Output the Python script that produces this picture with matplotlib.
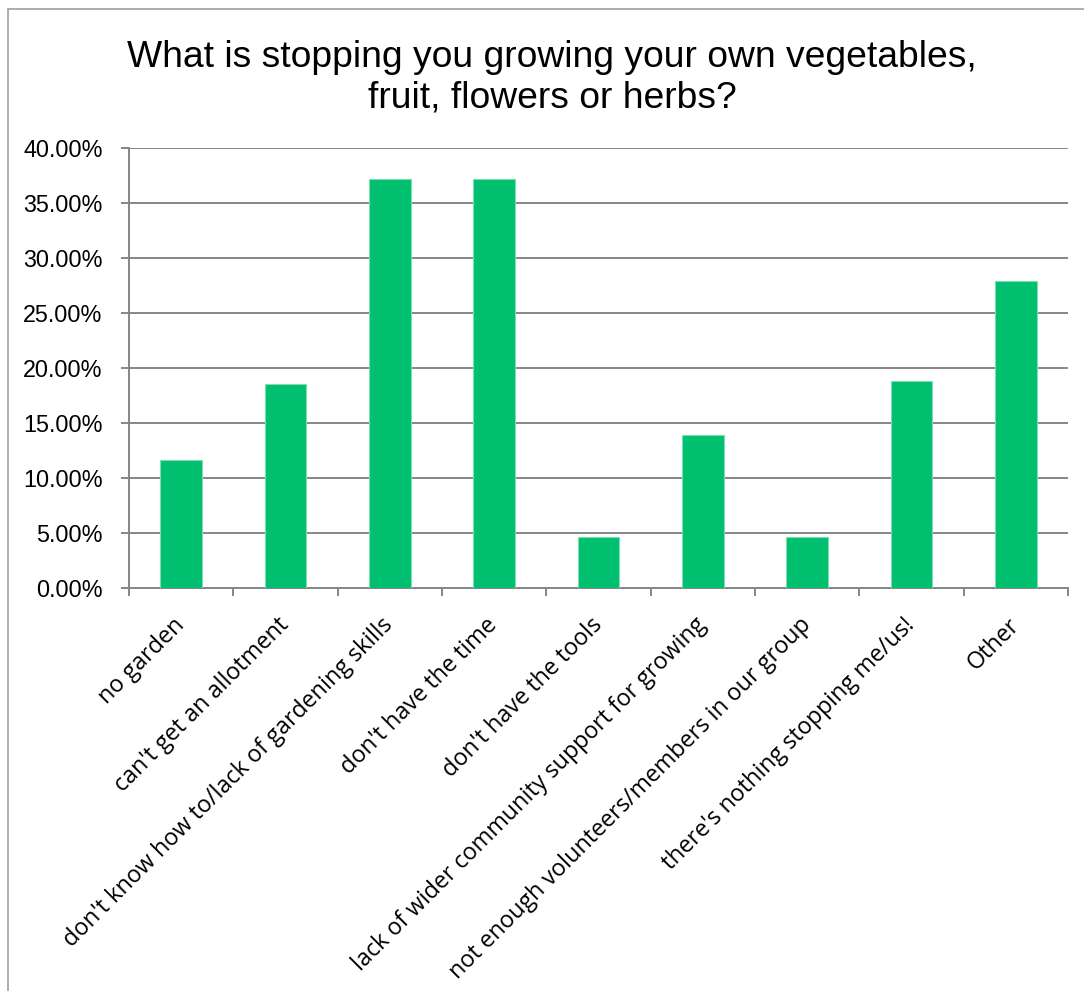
import matplotlib
matplotlib.use("Agg")
import matplotlib.pyplot as plt
from matplotlib.patches import Rectangle
from matplotlib.ticker import FuncFormatter, MultipleLocator, FixedLocator
import numpy as np

categories = [
    "no garden",
    "can't get an allotment",
    "don't know how to/lack of gardening skills",
    "don't have the time",
    "don't have the tools",
    "lack of wider community support for growing",
    "not enough volunteers/members in our group",
    "there's nothing stopping me/us!",
    "Other",
]
values = [11.63, 18.60, 37.21, 37.21, 4.65, 13.95, 4.65, 18.87, 27.91]

title = "What is stopping you growing your own vegetables,\nfruit, flowers or herbs?"

BAR_COLOR = "#00BF6F"
GRID_COLOR = "#868686"

W, H, DPI = 1084, 991, 100
fig = plt.figure(figsize=(W / DPI, H / DPI), dpi=DPI)
fig.patch.set_facecolor("white")

# chart border (runs off the right and bottom edges)
fig.patches.append(Rectangle((7.5 / W, -0.05), 1.2, 1 - 8.5 / H + 0.05,
                             transform=fig.transFigure, fill=False,
                             edgecolor="#A6A6A6", linewidth=1.3, zorder=0))

ax = fig.add_axes([129 / W, 1 - 588.3 / H, (1068 - 129) / W, (588.3 - 148) / H])

x = np.arange(len(categories))
ax.bar(x, values, width=0.4, color=BAR_COLOR, edgecolor="#7FDDB5",
       linewidth=0.8, zorder=3)

ax.set_xlim(-0.5, len(categories) - 0.5)
ax.set_ylim(0, 40)

ax.yaxis.set_major_locator(MultipleLocator(5))
ax.yaxis.set_major_formatter(FuncFormatter(lambda v, p: f"{v:.2f}%"))
ax.grid(axis="y", color=GRID_COLOR, linewidth=1.4, zorder=0)
ax.set_axisbelow(True)

for side in ("top", "right"):
    ax.spines[side].set_visible(False)
for side in ("left", "bottom"):
    ax.spines[side].set_color(GRID_COLOR)
    ax.spines[side].set_linewidth(1.4)

ax.tick_params(axis="y", length=6, width=1.4, color=GRID_COLOR, pad=13,
               labelsize=16.8, labelcolor="black")
for lab in ax.get_yticklabels():
    lab.set_family("Liberation Sans")

# category boundary tick marks, labels at category centres
ax.xaxis.set_major_locator(FixedLocator(x))
ax.xaxis.set_minor_locator(FixedLocator(np.arange(len(categories) + 1) - 0.5))
ax.tick_params(axis="x", which="major", length=0, pad=24)
ax.tick_params(axis="x", which="minor", length=6, width=1.4, color=GRID_COLOR)
ax.set_xticklabels(categories, rotation=45, ha="right", va="center",
                   rotation_mode="anchor", fontsize=16.8, family="Open Sans",
                   color="black")

fig.text(552 / W, 1 - 107.3 / H, title, ha="center", va="baseline",
         fontsize=26.8, family="Liberation Sans", linespacing=1.2,
         color="black")

fig.savefig("out.png", dpi=DPI, facecolor="white")
